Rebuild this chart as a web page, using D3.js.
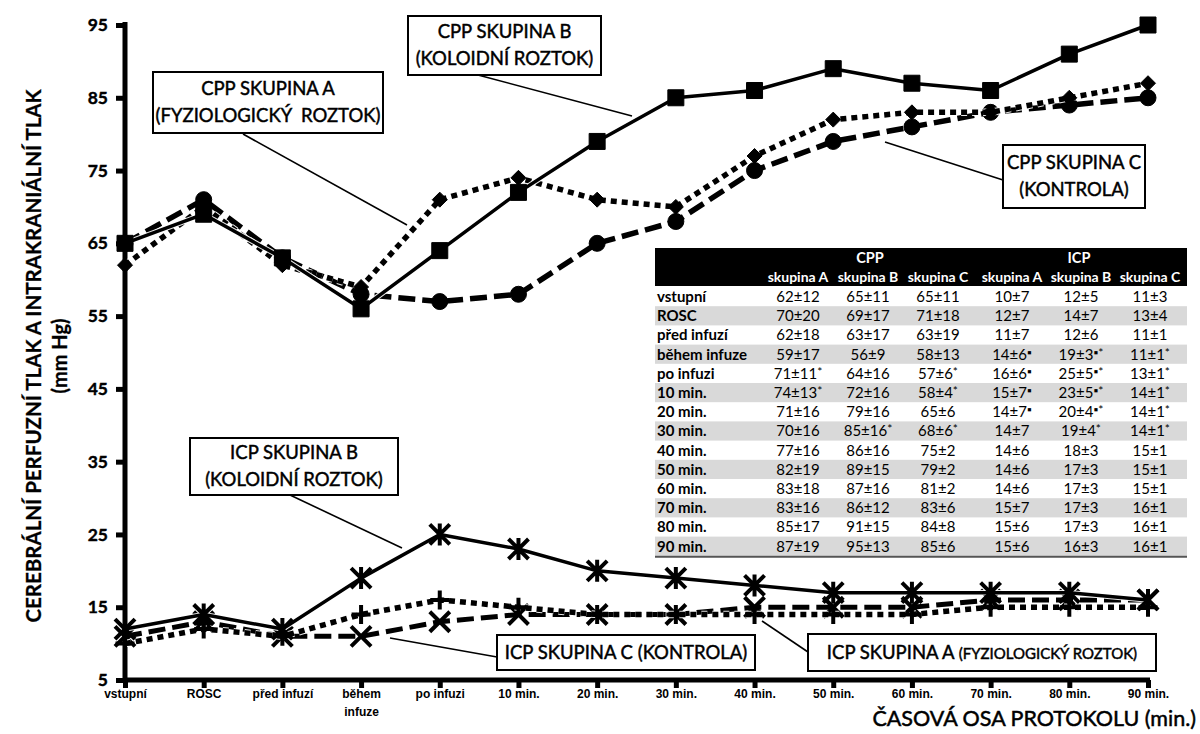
<!DOCTYPE html>
<html>
<head>
<meta charset="utf-8">
<script src="https://cdn.jsdelivr.net/npm/d3@7/dist/d3.min.js"></script>
<style>
  html, body { margin: 0; padding: 0; background: #fff; }
  svg { display: block; font-family: Lato, "Open Sans", sans-serif; }
</style>
</head>
<body>
<svg id="chart" width="1200" height="734"></svg>
<script>
// Protocol time points (x axis)
const categories = ["vstupní", "ROSC", "před infuzí", "během infuze", "po infuzi",
  "10 min.", "20 min.", "30 min.", "40 min.", "50 min.", "60 min.", "70 min.", "80 min.", "90 min."];
const tickLabelLines = [["vstupní"], ["ROSC"], ["před infuzí"], ["během", "infuze"], ["po infuzi"],
  ["10 min."], ["20 min."], ["30 min."], ["40 min."], ["50 min."], ["60 min."], ["70 min."], ["80 min."], ["90 min."]];
const yTicks = [5, 15, 25, 35, 45, 55, 65, 75, 85, 95];

// Cerebral perfusion pressure (mean, SD, significance flag)
const cppA = [62, 70, 62, 59, 71, 74, 71, 70, 77, 82, 83, 83, 85, 87];
const cppA_sd = [12, 20, 18, 17, 11, 13, 16, 16, 16, 19, 18, 16, 17, 19];
const cppA_flag = ["", "", "", "", "*", "*", "", "", "", "", "", "", "", ""];
const cppB = [65, 69, 63, 56, 64, 72, 79, 85, 86, 89, 87, 86, 91, 95];
const cppB_sd = [11, 17, 17, 9, 16, 16, 16, 16, 16, 15, 16, 12, 15, 13];
const cppB_flag = ["", "", "", "", "", "", "", "*", "", "", "", "", "", ""];
const cppC = [65, 71, 63, 58, 57, 58, 65, 68, 75, 79, 81, 83, 84, 85];
const cppC_sd = [11, 18, 19, 13, 6, 4, 6, 6, 2, 2, 2, 6, 8, 6];
const cppC_flag = ["", "", "", "", "*", "*", "", "*", "", "", "", "", "", ""];

// Intracranial pressure (mean, SD, significance flag)
const icpA = [10, 12, 11, 14, 16, 15, 14, 14, 14, 14, 14, 15, 15, 15];
const icpA_sd = [7, 7, 7, 6, 6, 7, 7, 7, 6, 6, 6, 7, 6, 6];
const icpA_flag = ["", "", "", "▪", "▪", "▪", "▪", "", "", "", "", "", "", ""];
const icpB = [12, 14, 12, 19, 25, 23, 20, 19, 18, 17, 17, 17, 17, 16];
const icpB_sd = [5, 7, 6, 3, 5, 5, 4, 4, 3, 3, 3, 3, 3, 3];
const icpB_flag = ["", "", "", "▪*", "▪*", "▪*", "▪*", "*", "", "", "", "", "", ""];
const icpC = [11, 13, 11, 11, 13, 14, 14, 14, 15, 15, 15, 16, 16, 16];
const icpC_sd = [3, 4, 1, 1, 1, 1, 1, 1, 1, 1, 1, 1, 1, 1];
const icpC_flag = ["", "", "", "*", "*", "*", "*", "*", "", "", "", "", "", ""];

const groupHeaders = ["CPP", "ICP"];
const columnHeaders = ["skupina A", "skupina B", "skupina C", "skupina A", "skupina B", "skupina C"];

const svg = d3.select("#chart");

const x = d3.scalePoint().domain(categories).range([125, 1148]);
const y = d3.scaleLinear().domain([5, 95]).range([680, 25]);

// ---- axes ----
const yAxis = svg.append("g").attr("transform", "translate(125,0)")
  .call(d3.axisLeft(y).tickValues(yTicks).tickSize(9).tickPadding(8).tickFormat(d3.format("d")));
yAxis.select(".domain").attr("stroke", "#000").attr("stroke-width", 5).attr("d", "M0,22V682");
yAxis.selectAll(".tick line").attr("stroke", "#000").attr("stroke-width", 5);
yAxis.selectAll(".tick text").attr("font-size", 17.5).attr("font-weight", 700).attr("fill", "#000")
  .attr("font-family", "Lato, sans-serif").attr("stroke", "#000").attr("stroke-width", 0.4);

const xAxis = svg.append("g").attr("transform", "translate(0,680)")
  .call(d3.axisBottom(x).tickSize(8).tickFormat(""));
xAxis.select(".domain").attr("stroke", "#000").attr("stroke-width", 5).attr("d", "M123,0H1150");
xAxis.selectAll(".tick line").attr("stroke", "#000").attr("stroke-width", 5);
xAxis.selectAll(".tick").each(function (d, i) {
  const t = d3.select(this).append("text").attr("fill", "#000")
    .attr("font-size", 12).attr("font-weight", 700).attr("text-anchor", "middle");
  tickLabelLines[i].forEach((ln, k) => {
    t.append("tspan").attr("x", 0).attr("y", 18 + k * 18).text(ln);
  });
});

// axis titles
svg.append("text")
  .attr("transform", "translate(41,356) rotate(-90)")
  .attr("text-anchor", "middle").attr("font-size", 20.5).attr("font-weight", 700)
  .attr("stroke", "#000").attr("stroke-width", 0.3)
  .text("CEREBRÁLNÍ PERFUZNÍ TLAK A INTRAKRANIÁLNÍ TLAK");
svg.append("text")
  .attr("transform", "translate(67,356) rotate(-90)")
  .attr("text-anchor", "middle").attr("font-size", 20).attr("font-weight", 700)
  .attr("stroke", "#000").attr("stroke-width", 0.3)
  .text("(mm Hg)");
svg.append("text")
  .attr("x", 1196).attr("y", 726).attr("text-anchor", "end")
  .attr("font-size", 21.5).attr("font-weight", 400)
  .attr("stroke", "#000").attr("stroke-width", 0.5)
  .text("ČASOVÁ OSA PROTOKOLU (min.)");

// ---- marker shapes ----
function markerPath(kind, s) {
  const h = s / 2;
  switch (kind) {
    case "square": return `M${-h},${-h}H${h}V${h}H${-h}Z`;
    case "diamond": return `M0,${-h}L${h},0L0,${h}L${-h},0Z`;
    case "circle": return d3.symbol(d3.symbolCircle, Math.PI * h * h)();
    case "star": return `M${-h},${-h}L${h},${h}M${-h},${h}L${h},${-h}M0,${-h * 1.1}V${h * 1.1}`;
    case "plus": return `M${-h},0H${h}M0,${-h}V${h}`;
    case "times": return `M${-h},${-h}L${h},${h}M${-h},${h}L${h},${-h}`;
  }
}

const series = [
  { values: icpC, dash: "17,7", width: 5, marker: "times", size: 20, filled: false },
  { values: icpA, dash: "6,5", width: 5.5, marker: "plus", size: 19, filled: false },
  { values: icpB, dash: null, width: 3.5, marker: "star", size: 20, filled: false },
  { values: cppC, dash: "17,7", width: 5.5, marker: "circle", size: 16, filled: true },
  { values: cppA, dash: "6,5", width: 5.5, marker: "diamond", size: 15, filled: true },
  { values: cppB, dash: null, width: 3.5, marker: "square", size: 16, filled: true }
];

const line = d3.line().x((d, i) => x(categories[i])).y(d => y(d));

series.forEach(s => {
  const g = svg.append("g");
  g.append("path").attr("d", line(s.values)).attr("fill", "none")
    .attr("stroke", "#fff").attr("stroke-width", s.width + 2)
    .attr("stroke-dasharray", s.dash).attr("stroke-opacity", 0.9);
  g.append("path").attr("d", line(s.values)).attr("fill", "none")
    .attr("stroke", "#000").attr("stroke-width", s.width)
    .attr("stroke-dasharray", s.dash).attr("stroke-linejoin", "round");
  g.selectAll(".m").data(s.values).join("path")
    .attr("transform", (d, i) => `translate(${x(categories[i])},${y(d)})`)
    .attr("d", markerPath(s.marker, s.size))
    .attr("fill", s.filled ? "#000" : "none")
    .attr("stroke", "#000")
    .attr("stroke-width", s.filled ? 1 : 4);
});

// ---- data table ----
const tbl = svg.append("g");
const tx0 = 655, tx1 = 1187, headTop = 248, headBottom = 286, rowH = 19.2;
const colX = [798, 868, 938, 1012, 1081, 1150];
const groupX = [870, 1079];
tbl.append("rect").attr("x", tx0).attr("y", headTop).attr("width", tx1 - tx0)
  .attr("height", headBottom - headTop).attr("fill", "#000");
groupHeaders.forEach((h, i) => {
  tbl.append("text").attr("x", groupX[i]).attr("y", 263).attr("text-anchor", "middle")
    .attr("fill", "#fff").attr("font-size", 14.5).attr("font-weight", 700).text(h);
});
columnHeaders.forEach((h, i) => {
  tbl.append("text").attr("x", colX[i]).attr("y", 282).attr("text-anchor", "middle")
    .attr("fill", "#fff").attr("font-size", 14).attr("font-weight", 700).text(h);
});
const cols = [
  [cppA, cppA_sd, cppA_flag], [cppB, cppB_sd, cppB_flag], [cppC, cppC_sd, cppC_flag],
  [icpA, icpA_sd, icpA_flag], [icpB, icpB_sd, icpB_flag], [icpC, icpC_sd, icpC_flag]
];
categories.forEach((c, r) => {
  const top = headBottom + 1 + r * rowH;
  if (r % 2 === 1) {
    tbl.append("rect").attr("x", tx0).attr("y", top).attr("width", tx1 - tx0)
      .attr("height", rowH).attr("fill", "#d9d9d9");
  }
  tbl.append("text").attr("x", tx0 + 2).attr("y", top + 15).attr("font-size", 15)
    .attr("font-weight", 700).text(c);
  cols.forEach((col, k) => {
    const t = tbl.append("text").attr("x", colX[k]).attr("y", top + 15)
      .attr("text-anchor", "middle").attr("font-size", 15);
    t.append("tspan").text(`${col[0][r]}±${col[1][r]}`);
    if (col[2][r]) t.append("tspan").attr("font-size", 12).attr("dy", -3).text(col[2][r]);
  });
});
tbl.append("line").attr("x1", tx0).attr("x2", tx1)
  .attr("y1", headBottom + 1 + 14 * rowH + 1).attr("y2", headBottom + 1 + 14 * rowH + 1)
  .attr("stroke", "#555").attr("stroke-width", 2);

// ---- callout boxes ----
const callouts = [
  { box: [153, 72, 230, 61], lines: ["CPP SKUPINA A", "(FYZIOLOGICKÝ  ROZTOK)"], lead: [243, 134, 407, 225] },
  { box: [408, 16, 193, 59], lines: ["CPP SKUPINA B", "(KOLOIDNÍ ROZTOK)"], lead: [478, 75, 632, 116] },
  { box: [1003, 145, 142, 63], lines: ["CPP SKUPINA C", "(KONTROLA)"], lead: [885, 142, 1003, 180] },
  { box: [190, 438, 208, 57], lines: ["ICP SKUPINA B", "(KOLOIDNÍ ROZTOK)"], lead: [290, 495, 402, 548] },
  { box: [497, 635, 258, 35], lines: ["ICP SKUPINA C (KONTROLA)"], lead: [390, 638, 497, 657] },
  { box: [808, 634, 348, 37], lines: null, lead: [762, 621, 808, 652] }
];
callouts.forEach(c => {
  svg.append("line").attr("x1", c.lead[0]).attr("y1", c.lead[1]).attr("x2", c.lead[2]).attr("y2", c.lead[3])
    .attr("stroke", "#000").attr("stroke-width", 1.6);
  svg.append("rect").attr("x", c.box[0]).attr("y", c.box[1]).attr("width", c.box[2]).attr("height", c.box[3])
    .attr("fill", "#fff").attr("stroke", "#000").attr("stroke-width", 2);
  const cx = c.box[0] + c.box[2] / 2;
  if (c.lines) {
    const n = c.lines.length;
    c.lines.forEach((ln, k) => {
      svg.append("text").attr("x", cx).attr("text-anchor", "middle")
        .attr("y", c.box[1] + c.box[3] / 2 + 6 + (k - (n - 1) / 2) * 27)
        .attr("font-size", 18.5).attr("stroke", "#000").attr("stroke-width", 0.45)
        .style("white-space", "pre").text(ln);
    });
  } else {
    const t = svg.append("text").attr("x", cx).attr("y", c.box[1] + c.box[3] / 2 + 6)
      .attr("text-anchor", "middle").attr("font-size", 18.5)
      .attr("stroke", "#000").attr("stroke-width", 0.45);
    t.append("tspan").text("ICP SKUPINA A ");
    t.append("tspan").attr("font-size", 15).text("(FYZIOLOGICKÝ ROZTOK)");
  }
});
</script>
</body>
</html>
